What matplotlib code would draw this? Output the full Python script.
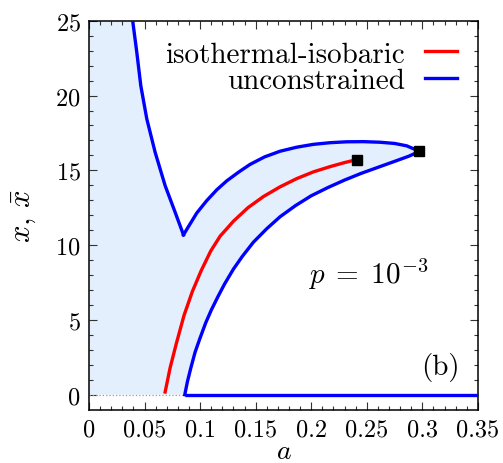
import numpy as np
import matplotlib
matplotlib.use('Agg')
import matplotlib.pyplot as plt

plt.rcParams['font.family'] = 'serif'
plt.rcParams['font.serif'] = ['cmr10', 'DejaVu Serif']
plt.rcParams['mathtext.fontset'] = 'cm'
plt.rcParams['axes.unicode_minus'] = False
plt.rcParams['axes.formatter.use_mathtext'] = True

# unconstrained: left branch, from the top of the plot down to the cusp
left_a = [0.0393, 0.0430, 0.0466, 0.0520, 0.0595, 0.0685, 0.0775, 0.0850]
left_x = [25.0, 22.89, 20.66, 18.44, 16.21, 13.98, 12.20, 10.69]

# unconstrained: upper branch, cusp -> critical point
upper_a = [0.0850, 0.090, 0.097, 0.106, 0.115, 0.124, 0.135, 0.145, 0.158, 0.172,
           0.187, 0.202, 0.217, 0.232, 0.247, 0.262, 0.275, 0.286, 0.2974]
upper_x = [10.69, 11.30, 12.15, 12.98, 13.70, 14.30, 14.90, 15.40, 15.90, 16.28,
           16.55, 16.74, 16.85, 16.91, 16.92, 16.88, 16.80, 16.64, 16.27]

# unconstrained: lower branch, x=0 -> critical point
lower_a = [0.0862, 0.0885, 0.0915, 0.0955, 0.100, 0.105, 0.110, 0.116, 0.122, 0.130,
           0.138, 0.148, 0.160, 0.172, 0.186, 0.200, 0.215, 0.230, 0.245, 0.260,
           0.275, 0.288, 0.2974]
lower_x = [0.0, 0.85, 1.75, 2.85, 3.80, 4.80, 5.65, 6.55, 7.40, 8.40,
           9.25, 10.20, 11.10, 11.90, 12.65, 13.30, 13.85, 14.35, 14.80, 15.20,
           15.60, 15.95, 16.27]

# unconstrained: trivial solution x=0
zero_a = [0.0862, 0.35]

# isothermal-isobaric
iso_a = [0.0685, 0.073, 0.0785, 0.0855, 0.093, 0.101, 0.1095, 0.118, 0.130, 0.143,
         0.157, 0.172, 0.187, 0.202, 0.217, 0.230, 0.241]
iso_x = [0.18, 1.8, 3.4, 5.3, 6.9, 8.3, 9.6, 10.6, 11.6, 12.5,
         13.25, 13.9, 14.45, 14.9, 15.25, 15.52, 15.72]

crit_unc = (0.2974, 16.27)
crit_iso = (0.241, 15.72)

xticks = [0, 0.05, 0.1, 0.15, 0.2, 0.25, 0.3, 0.35]
xticklabels = ['0', '0.05', '0.1', '0.15', '0.2', '0.25', '0.3', '0.35']
yticks = [0, 5, 10, 15, 20, 25]

fig = plt.figure(figsize=(5.03, 4.64), dpi=100)
ax = fig.add_axes([0.177, 0.115, 0.773, 0.838])

# shaded region to the left of / inside the unconstrained curve
poly_a = [0.0] + lower_a + upper_a[::-1] + left_a[::-1] + [0.0]
poly_x = [0.0] + lower_x + upper_x[::-1] + left_x[::-1] + [25.0]
ax.fill(poly_a, poly_x, color='#e3effd', lw=0, zorder=1)

ax.plot([0, 0.0862], [0, 0], ls=':', color='#999999', lw=0.9, zorder=2)

blue = '#0000ff'
red = '#ff0000'
lw = 2.4
ax.plot(left_a, left_x, color=blue, lw=lw, zorder=3)
ax.plot(upper_a, upper_x, color=blue, lw=lw, zorder=3)
ax.plot(lower_a, lower_x, color=blue, lw=lw, zorder=3)
ax.plot(zero_a, [0, 0], color=blue, lw=lw, zorder=3, solid_capstyle='butt')
ax.plot(iso_a, iso_x, color=red, lw=lw, zorder=3)

ax.plot(*crit_unc, 's', color='black', ms=7.5, zorder=4)
ax.plot(*crit_iso, 's', color='black', ms=7.5, zorder=4)

# legend handles
ax.plot([], [], color=red, lw=lw, label='isothermal-isobaric')
ax.plot([], [], color=blue, lw=lw, label='unconstrained')
handles, labels = ax.get_legend_handles_labels()
ax.legend(handles, labels, loc='upper right', frameon=False, markerfirst=False,
          fontsize=21, handlelength=1.1, handletextpad=0.7, labelspacing=0.0,
          borderaxespad=0.3, borderpad=0.4)

ax.text(0.197, 8.1, r'$p\;=\;10^{-3}$', fontsize=21, ha='left', va='center')
ax.text(0.334, 1.87, '(b)', fontsize=21, ha='right', va='center')

ax.set_xlim(0, 0.35)
ax.set_ylim(-1, 25)
ax.set_xticks(xticks)
ax.set_xticklabels(xticklabels)
ax.set_yticks(yticks)
ax.set_xticks(np.arange(0, 0.351, 0.01), minor=True)
ax.set_yticks(np.arange(0, 25.1, 1), minor=True)
ax.tick_params(which='both', direction='in', top=True, right=True, labelsize=17.5,
               color='#333333')
ax.tick_params(which='major', length=6, width=0.8, pad=6)
ax.tick_params(which='minor', length=3, width=0.8)
for s in ax.spines.values():
    s.set_linewidth(1.1)

ax.set_xlabel(r'$a$', fontsize=20, labelpad=-2)
ax.set_ylabel(r'$x,\,\bar{x}$', fontsize=22, labelpad=12)

fig.savefig('out.png', dpi=100)
